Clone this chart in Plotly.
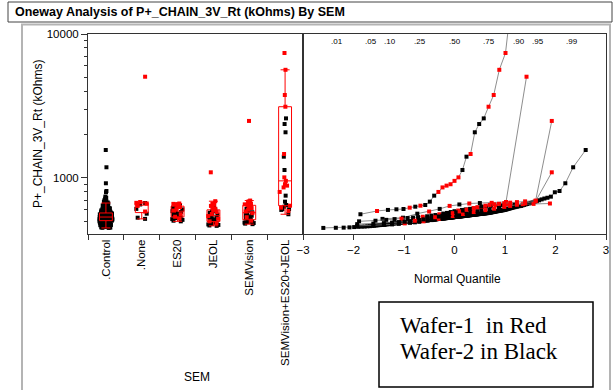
import plotly.graph_objects as go
from statistics import NormalDist

# ---------------- data (kOhms) ----------------
categories = [".Control", ".None", "ES20", "JEOL", "SEMVision", "SEMVision+ES20+JEOL"]

control_black = [450, 451, 452, 454, 456,
                 458, 459, 460, 462, 463, 465, 466, 468, 470,
                 471, 472, 474, 475, 476, 477, 479, 480, 481, 482, 484, 485, 486, 487, 488, 489, 490, 491, 492,
                 493, 493, 494, 494, 495, 496, 496, 497, 498, 498, 499, 500, 500, 501, 502, 502, 503, 503, 504, 505,
                 506, 506, 507, 507, 508, 508, 509, 509, 510, 510, 511, 511, 512, 512, 513, 513, 514, 514, 515, 515,
                 516, 517, 517, 518, 518, 519, 519, 520, 520, 521, 522, 522, 523, 523, 524, 524, 525, 525, 526, 527,
                 527, 528, 528, 529, 529, 530, 530, 531, 532, 532, 533, 534, 535,
                 536, 536, 537, 537, 538, 538, 539, 540, 540, 541, 541, 542, 543, 543, 544, 545, 545, 546, 547, 547,
                 548, 549, 549, 550, 551, 551, 552, 553, 553, 554, 555, 556, 556, 557, 558, 558, 559, 560, 561, 561,
                 562, 563, 564, 564, 565, 566, 567, 567, 568, 569, 570, 570, 571, 572,
                 573, 575, 576, 578, 579, 581, 582, 584, 585, 587, 588, 590, 591, 593, 594, 596, 597, 599, 600,
                 603, 606, 609, 612, 615, 618, 621, 624, 627, 630, 633, 636, 638, 640,
                 645, 650, 655, 660, 665, 670, 677, 684,
                 690, 700, 710, 720, 729,
                 742, 796, 812, 919, 1187, 1565]
control_red = []

none_black = [520, 530, 565, 610, 655, 670]
none_red = [585, 640, 665, 672, 681, 5050]

es20_black = [500, 505, 512, 518, 527, 531, 535, 542, 548, 553, 566, 572, 580, 588, 600, 605,
              615, 622, 634, 640, 649, 655]
es20_red = [522, 538, 560, 594, 610, 628, 645, 652, 658, 661, 665]

jeol_black = [465, 468, 472, 476, 480, 488, 492, 496, 505, 510, 515, 526, 532, 538, 550, 556,
              568, 574, 586, 592, 604, 620]
jeol_red = [484, 500, 520, 544, 562, 580, 598, 612, 630, 640, 652, 665, 690, 1095]

semv_black = [478, 482, 486, 490, 494, 497, 500, 510, 516, 522, 528, 540, 547, 554, 562, 578,
              594, 610, 634]
semv_red = [505, 534, 570, 586, 602, 618, 626, 642, 650, 656, 662, 668, 674, 680, 688, 697, 2490]

sse_black = [560, 600, 606, 609, 632, 649, 685, 754, 1136, 1406, 2077, 2370, 2594]
sse_red = [590, 622, 642, 800, 860, 885, 905, 955, 1010, 1468, 3126, 3770, 5640, 7380,
           20000, 32000, 55000, 90000]

black_by_group = [control_black, none_black, es20_black, jeol_black, semv_black, sse_black]
red_by_group = [control_red, none_red, es20_red, jeol_red, semv_red, sse_red]

quantile_probs = [0.01, 0.05, 0.10, 0.25, 0.50, 0.75, 0.90, 0.95, 0.99]
quantile_labels = [".01", ".05", ".10", ".25", ".50", ".75", ".90", ".95", ".99"]

RED = "#ff0000"
BLACK = "#000000"
FONT = "Liberation Sans, Arial, sans-serif"

# ---------------- layout geometry (pixels) ----------------
W, H = 613, 390
L, R, T, B = 88, 7, 34, 156
PW = W - L - R
PH = H - T - B
split = 303
def px(x):
    return (x - L) / PW
def py(y):
    return (H - B - y) / PH

fig = go.Figure()

# ---------------- left panel: jittered points + box plots ----------------
for cat, blk, red in zip(categories, black_by_group, red_by_group):
    for vals, col in ((blk, BLACK), (red, RED)):
        if not vals:
            continue
        fig.add_trace(go.Box(
            x=[cat] * len(vals), y=vals, xaxis="x", yaxis="y",
            boxpoints="all", jitter=0.85, pointpos=0, width=0.42,
            line=dict(width=0, color="rgba(0,0,0,0)"), fillcolor="rgba(0,0,0,0)",
            whiskerwidth=0,
            marker=dict(color=col, symbol="square", size=4, line=dict(width=0)),
            hoverinfo="skip", showlegend=False))

for cat, blk, red in zip(categories, black_by_group, red_by_group):
    vals = blk + red
    fig.add_trace(go.Box(
        x=[cat] * len(vals), y=vals, xaxis="x", yaxis="y",
        boxpoints="outliers", quartilemethod="exclusive", width=0.36, whiskerwidth=0.7,
        line=dict(color=RED, width=1), fillcolor="rgba(0,0,0,0)",
        marker=dict(opacity=0, size=1),
        hoverinfo="skip", showlegend=False))

# ---------------- right panel: normal quantile plots ----------------
nd = NormalDist()
for blk, red in zip(black_by_group, red_by_group):
    pts = sorted([(v, BLACK) for v in blk] + [(v, RED) for v in red], key=lambda t: t[0])
    n = len(pts)
    qx = [nd.inv_cdf((i + 1) / (n + 1)) for i in range(n)]
    fig.add_trace(go.Scatter(
        x=qx, y=[p[0] for p in pts], xaxis="x2", yaxis="y2",
        mode="lines+markers",
        line=dict(color="#707070", width=0.8),
        marker=dict(color=[p[1] for p in pts], symbol="square", size=4, line=dict(width=0)),
        hoverinfo="skip", showlegend=False))

yrange = [2.611, 4.0]
axis_common = dict(showline=True, linecolor="#333", linewidth=1, mirror=True,
                   showgrid=False, zeroline=False, automargin=False,
                   tickfont=dict(family=FONT, size=11.5, color="#000"))

fig.update_layout(
    width=W, height=H, autosize=False,
    margin=dict(l=L, r=R, t=T, b=B, pad=0, autoexpand=False),
    paper_bgcolor="white", plot_bgcolor="white",
    boxmode="overlay", showlegend=False,
    font=dict(family=FONT, color="#000"),
    xaxis=dict(domain=[0, px(split)], anchor="y", type="category",
               categoryorder="array", categoryarray=categories,
               range=[-0.5, 5.5], tickangle=-90, ticks="outside", ticklen=5,
               tickson="boundaries", tickcolor="#333", **axis_common),
    yaxis=dict(domain=[0, 1], anchor="x", type="log", range=yrange,
               dtick=1, tickformat="d", ticks="outside", ticklen=6, tickcolor="#333",
               minor=dict(ticks="outside", ticklen=3, dtick="D1", tickcolor="#333"),
               **axis_common),
    xaxis2=dict(domain=[px(split), 1], anchor="y2", range=[-3, 3], dtick=1,
                ticks="outside", ticklen=5, tickcolor="#333", **axis_common),
    yaxis2=dict(domain=[0, 1], anchor="x2", type="log", range=yrange,
                showticklabels=False, ticks="", **axis_common),
)

ann = []
for p, lab in zip(quantile_probs, quantile_labels):
    ann.append(dict(x=nd.inv_cdf(p), y=py(41.7), xref="x2", yref="paper",
                    text=lab, showarrow=False, xanchor="center", yanchor="middle",
                    font=dict(family=FONT, size=8, color="#000")))
ann.append(dict(x=px(13), y=py(12), xref="paper", yref="paper", xanchor="left", yanchor="middle",
                text="<b>Oneway Analysis of P+_CHAIN_3V_Rt (kOhms) By SEM</b>", showarrow=False,
                font=dict(family=FONT, size=12.5, color="#000")))
ann.append(dict(x=px(38), y=py(134), xref="paper", yref="paper", textangle=-90,
                text="P+_CHAIN_3V_Rt (kOhms)", showarrow=False,
                xanchor="center", yanchor="middle", font=dict(family=FONT, size=12, color="#000")))
ann.append(dict(x=px(197), y=py(376.7), xref="paper", yref="paper", text="SEM", showarrow=False,
                xanchor="center", yanchor="middle", font=dict(family=FONT, size=12, color="#000")))
ann.append(dict(x=px(457), y=py(278.7), xref="paper", yref="paper", text="Normal Quantile",
                showarrow=False, xanchor="center", yanchor="middle",
                font=dict(family=FONT, size=12, color="#000")))
ann.append(dict(x=px(398), y=py(325), xref="paper", yref="paper", text="Wafer-1\u00a0 in Red",
                showarrow=False, xanchor="left", yanchor="middle",
                font=dict(family="Liberation Serif, Times New Roman, serif", size=23, color="#000")))
ann.append(dict(x=px(398), y=py(351), xref="paper", yref="paper", text="Wafer-2 in Black",
                showarrow=False, xanchor="left", yanchor="middle",
                font=dict(family="Liberation Serif, Times New Roman, serif", size=23, color="#000")))
fig.update_layout(annotations=ann)

shapes = [
    dict(type="rect", xref="paper", yref="paper", x0=px(22), x1=px(610), y0=py(400), y1=py(24.5),
         line=dict(color="#b4b4b4", width=2), layer="below"),
    dict(type="rect", xref="paper", yref="paper", x0=px(8), x1=px(612), y0=py(22), y1=py(2),
         line=dict(color="#444", width=1), fillcolor="white", layer="below"),
    dict(type="rect", xref="paper", yref="paper", x0=px(379), x1=px(593), y0=py(387), y1=py(302),
         line=dict(color="#000", width=1.5)),
]
fig.update_layout(shapes=shapes)

fig.write_html("out.html", config={"displayModeBar": False},
               post_script="document.body.style.margin='0';document.body.style.overflow='hidden';")
